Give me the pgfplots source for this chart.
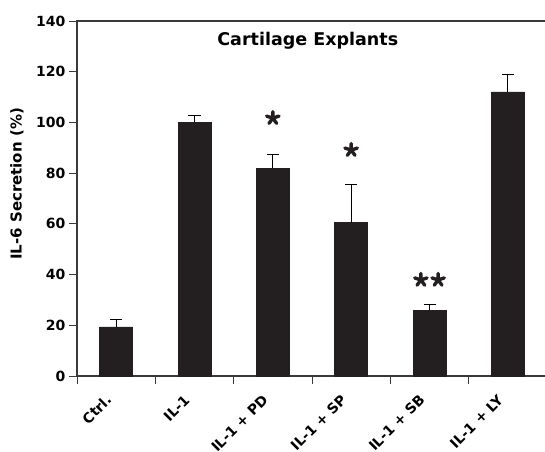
\documentclass[border=0pt]{standalone}
\usepackage{fontspec}
\setmainfont{DejaVu Sans}
\usepackage{pgfplots}
\pgfplotsset{compat=1.18}
\definecolor{barc}{HTML}{231F20}
\definecolor{axc}{HTML}{3A3A3A}
\pgfplotstableread{
x y e
0 19.4 2.8
1 100.0 2.6
2 82.0 5.4
3 60.5 15.1
4 26.0 2.1
5 112.1 6.7
}\bardata
\pgfplotstableread{
x y
2 101.7
3 89.1
3.89 37.9
4.11 37.9
}\stardata
\begin{document}
\begin{tikzpicture}
\begin{axis}[
  scale only axis, width=470pt, height=355pt,
  xmin=-0.5, xmax=5.5, ymin=0, ymax=140,
  ytick={0,20,...,140},
  xtick={-0.5,0.5,...,5.5}, xticklabels={},
  extra x ticks={0,1,2,3,4,5},
  extra x tick labels={Ctrl.,IL-1,IL-1 + PD,IL-1 + SP,IL-1 + SB,IL-1 + LY},
  extra x tick style={major tick length=0pt, grid=none,
    xticklabel style={xshift=-5pt, yshift=-19pt, rotate=45, anchor=east}},
  xtick pos=bottom, ytick pos=left,
  tick align=outside,
  major tick length=8pt,
  tick style={axc, line width=0.8pt},
  axis line style={axc, line width=1.2pt},
  tick label style={font=\bfseries\fontsize{14}{14}\selectfont},
  /pgf/number format/assume math mode=true,
  ylabel={IL-6 Secretion (\%)},
  ylabel style={at={(axis description cs:-0.128,0.541)}, anchor=center,
    font=\bfseries\fontsize{15}{15}\selectfont},
  title={Cartilage Explants},
  title style={at={(axis description cs:0.491,0.927)}, anchor=center,
    font=\bfseries\fontsize{17.5}{17.5}\selectfont},
]
\addplot[ybar, bar width=33pt, fill=barc, draw=barc,
  error bars/.cd, y dir=plus, y explicit,
  error bar style={line width=1pt, black},
  error mark options={rotate=90, mark size=6pt, line width=1pt, black}]
  table[x=x, y=y, y error=e] {\bardata};
\addplot[only marks, mark=star, mark size=6.5pt,
  mark options={line width=3.4pt, draw=barc, line cap=round}]
  table[x=x, y=y] {\stardata};
\end{axis}
\pgfresetboundingbox
\path (-77pt,-75pt) rectangle (468pt,376pt);
\end{tikzpicture}
\end{document}
